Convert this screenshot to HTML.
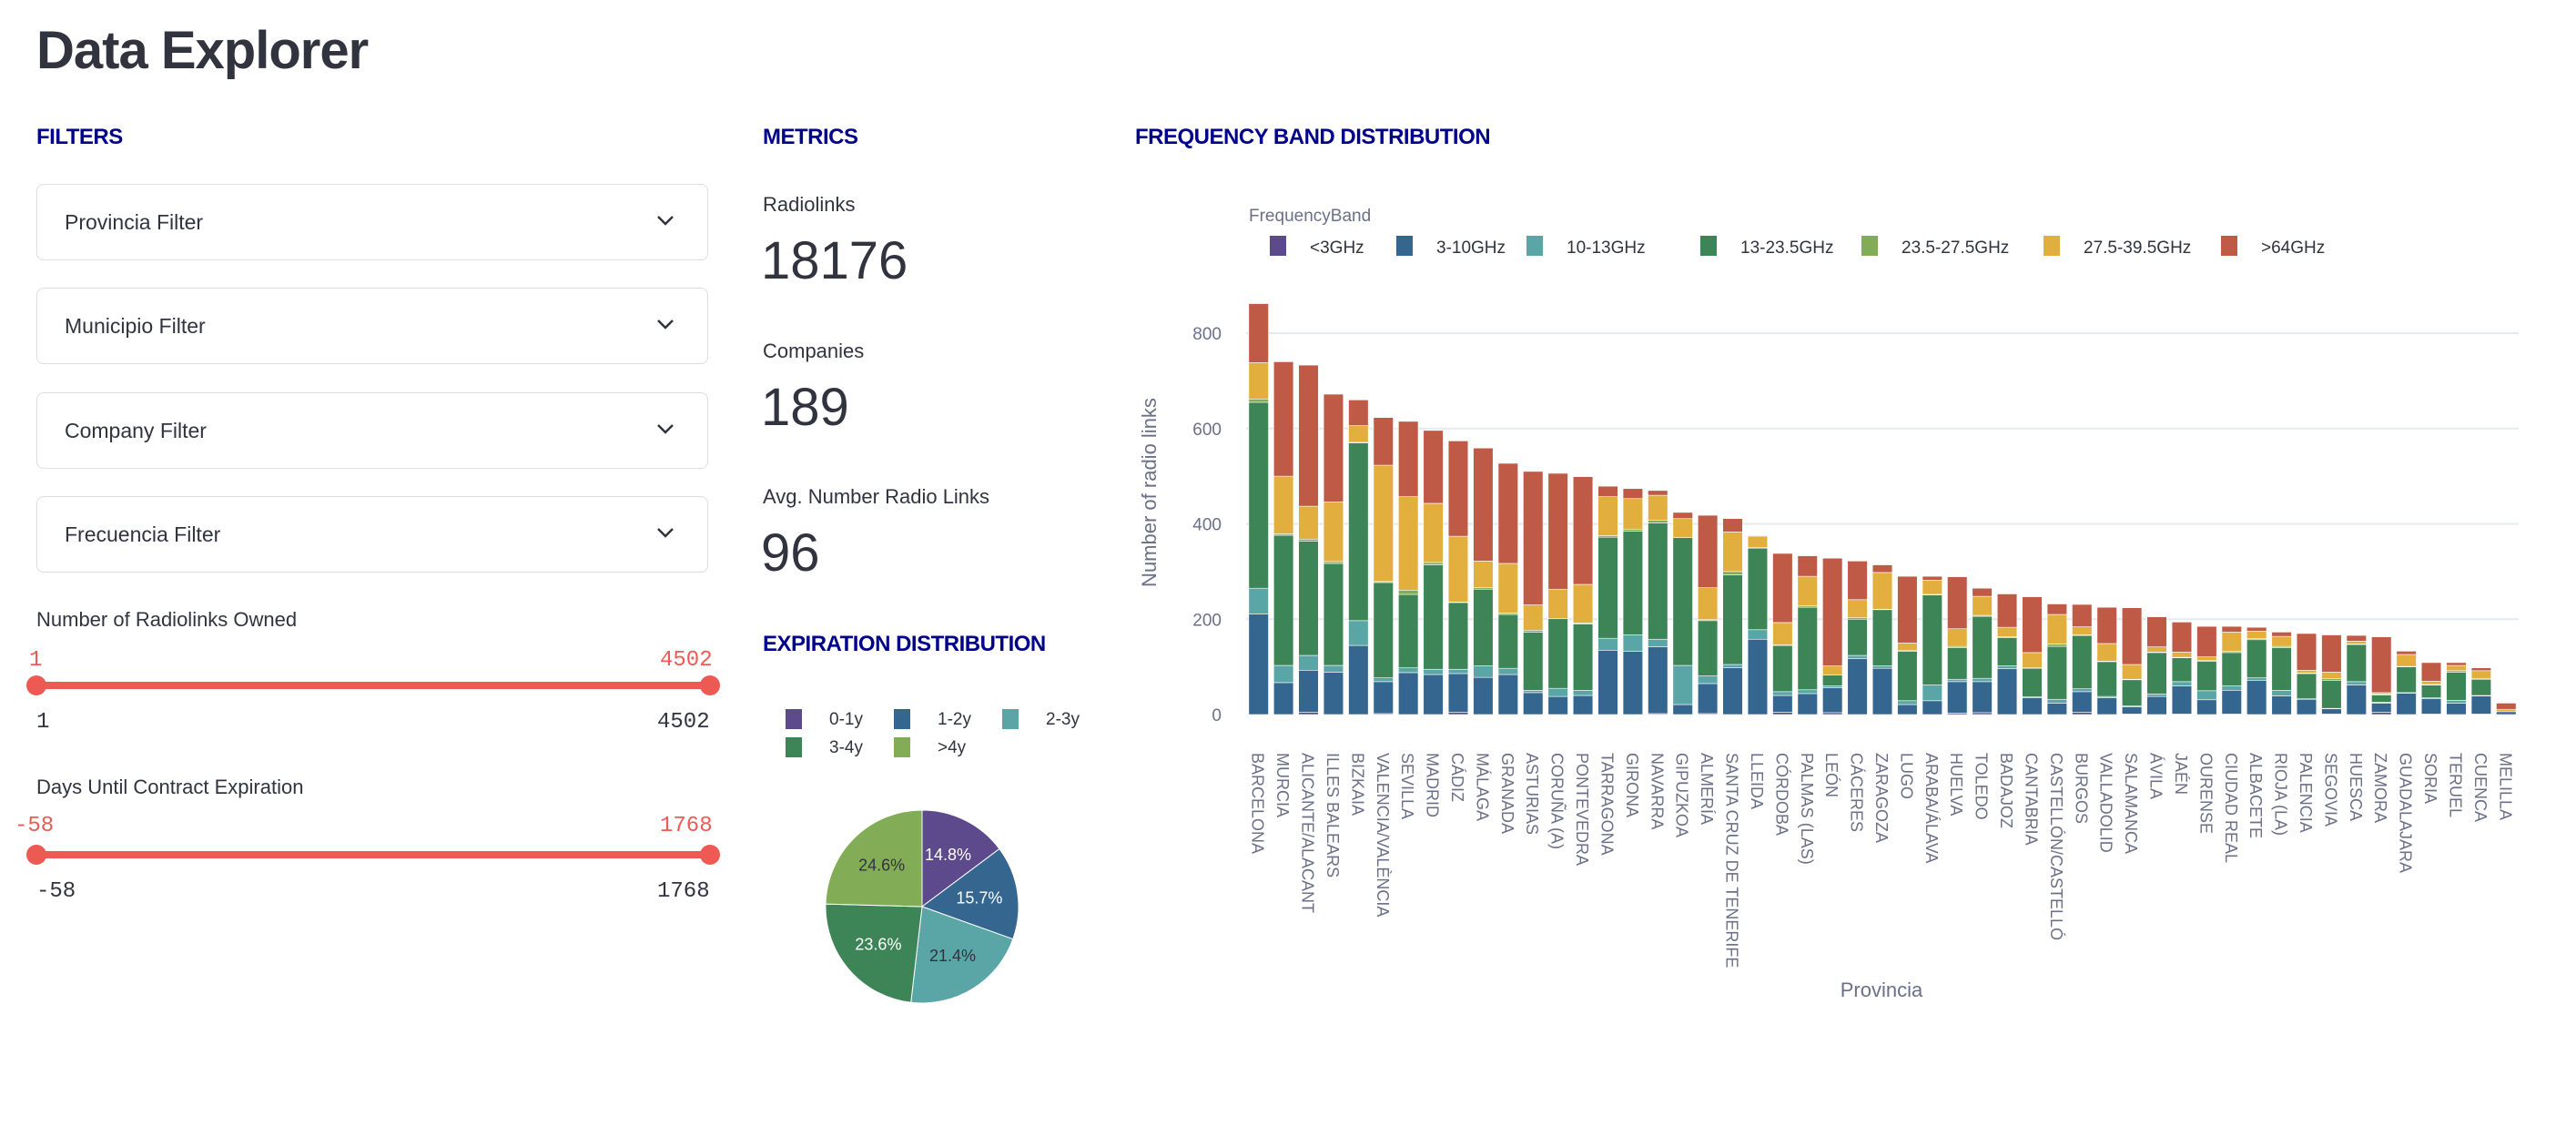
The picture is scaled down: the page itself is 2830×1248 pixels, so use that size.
<!DOCTYPE html>
<html><head><meta charset="utf-8">
<style>
body{margin:0;width:2830px;height:1248px;background:#fff;font-family:"Liberation Sans",sans-serif;color:#31333f;position:relative;overflow:hidden}
.abs{position:absolute}
h1{position:absolute;left:40px;top:22px;margin:0;font-size:58px;font-weight:bold;color:#31333f;letter-spacing:-1px}
.hd{position:absolute;font-size:24px;font-weight:bold;color:#00008b;letter-spacing:-0.5px}
.dd{position:absolute;left:40px;width:738px;height:84px;border:1.5px solid #dcdde2;border-radius:8px;box-sizing:border-box}
.dd span{position:absolute;left:30px;top:28px;font-size:23px;color:#31333f}
.dd svg{position:absolute;left:680px;top:32px}
.lbl{position:absolute;font-size:22px;color:#31333f}
.mono{position:absolute;font-family:"Liberation Mono",monospace;font-size:24px}
.track{position:absolute;left:40px;width:740px;height:8px;background:#ec5a53;border-radius:4px}
.thumb{position:absolute;width:22px;height:22px;border-radius:50%;background:#ec5a53}
.mlab{position:absolute;left:838px;font-size:22px;color:#31333f}
.mval{position:absolute;left:836px;font-size:58px;color:#31333f}
</style></head><body>
<h1>Data Explorer</h1>
<div class="hd" style="left:40px;top:137px">FILTERS</div>
<div class="hd" style="left:838px;top:137px">METRICS</div>
<div class="hd" style="left:1247px;top:137px">FREQUENCY BAND DISTRIBUTION</div>
<div class="hd" style="left:838px;top:694px">EXPIRATION DISTRIBUTION</div>

<div class="dd" style="top:202px"><span>Provincia Filter</span><svg width="20" height="14"><path d="M2 3l8 8 8-8" fill="none" stroke="#31333f" stroke-width="2.5"/></svg></div>
<div class="dd" style="top:316px"><span>Municipio Filter</span><svg width="20" height="14"><path d="M2 3l8 8 8-8" fill="none" stroke="#31333f" stroke-width="2.5"/></svg></div>
<div class="dd" style="top:431px"><span>Company Filter</span><svg width="20" height="14"><path d="M2 3l8 8 8-8" fill="none" stroke="#31333f" stroke-width="2.5"/></svg></div>
<div class="dd" style="top:545px"><span>Frecuencia Filter</span><svg width="20" height="14"><path d="M2 3l8 8 8-8" fill="none" stroke="#31333f" stroke-width="2.5"/></svg></div>

<div class="lbl" style="left:40px;top:668px">Number of Radiolinks Owned</div>
<div class="mono" style="left:32px;top:712px;color:#ec5a53">1</div>
<div class="mono" style="left:725px;top:712px;color:#ec5a53">4502</div>
<div class="track" style="top:749px"></div>
<div class="thumb" style="left:29px;top:742px"></div>
<div class="thumb" style="left:769px;top:742px"></div>
<div class="mono" style="left:40px;top:780px">1</div>
<div class="mono" style="left:722px;top:780px">4502</div>

<div class="lbl" style="left:40px;top:852px">Days Until Contract Expiration</div>
<div class="mono" style="left:16px;top:894px;color:#ec5a53">-58</div>
<div class="mono" style="left:725px;top:894px;color:#ec5a53">1768</div>
<div class="track" style="top:935px"></div>
<div class="thumb" style="left:29px;top:928px"></div>
<div class="thumb" style="left:769px;top:928px"></div>
<div class="mono" style="left:40px;top:966px">-58</div>
<div class="mono" style="left:722px;top:966px">1768</div>

<div class="mlab" style="top:212px">Radiolinks</div>
<div class="mval" style="top:253px">18176</div>
<div class="mlab" style="top:373px">Companies</div>
<div class="mval" style="top:414px">189</div>
<div class="mlab" style="top:533px">Avg. Number Radio Links</div>
<div class="mval" style="top:574px">96</div>

<svg id="pie" class="abs" style="left:840px;top:760px" width="360" height="360"></svg>
<svg id="bar" class="abs" style="left:1230px;top:200px" width="1600" height="920"></svg>

<script>
// ---------- Pie chart data ----------
const pieLabels = ["0-1y","1-2y","2-3y","3-4y",">4y"];
const pieValues = [14.8,15.7,21.4,23.6,24.6];
const pieColors = ["#5d4a8d","#356690","#5aa5a6","#3d8556","#82ad56"];
const pieTextColors = ["#fff","#fff","#31333f","#fff","#31333f"];

// ---------- Bar chart data ----------
const provinces = ["BARCELONA","MURCIA","ALICANTE/ALACANT","ILLES BALEARS","BIZKAIA","VALENCIA/VALÈNCIA","SEVILLA","MADRID","CÁDIZ","MÁLAGA","GRANADA","ASTURIAS","CORUÑA (A)","PONTEVEDRA","TARRAGONA","GIRONA","NAVARRA","GIPUZKOA","ALMERÍA","SANTA CRUZ DE TENERIFE","LLEIDA","CÓRDOBA","PALMAS (LAS)","LEÓN","CÁCERES","ZARAGOZA","LUGO","ARABA/ÁLAVA","HUELVA","TOLEDO","BADAJOZ","CANTABRIA","CASTELLÓN/CASTELLÓ","BURGOS","VALLADOLID","SALAMANCA","ÁVILA","JAÉN","OURENSE","CIUDAD REAL","ALBACETE","RIOJA (LA)","PALENCIA","SEGOVIA","HUESCA","ZAMORA","GUADALAJARA","SORIA","TERUEL","CUENCA","MELILLA"];
const bandNames = ["<3GHz","3-10GHz","10-13GHz","13-23.5GHz","23.5-27.5GHz","27.5-39.5GHz",">64GHz"];
const bandColors = ["#5d4a8d","#356690","#5aa5a6","#3d8556","#82ad56","#e2af3e","#be5a46"];
const sLt3 = [0,0,5,0,0,2,0,0,5,0,0,0,0,0,0,0,2,0,2,0,0,5,0,4,0,0,0,0,3,4,0,0,0,5,0,1,0,1,0,1,0,0,0,1,0,5,0,1,0,1,0];
const s3to10 = [211,67,88,89,145,67,88,84,81,78,84,46,38,40,135,133,140,21,63,98,158,35,44,52,117,97,21,29,66,65,96,35,24,43,35,15,38,59,31,50,72,39,32,11,62,19,45,32,24,38,6];
const s10to13 = [54,36,31,14,52,8,10,11,9,24,13,5,17,11,25,34,16,82,16,7,20,8,8,4,7,5,8,33,5,7,6,2,8,6,3,2,5,9,19,9,5,12,1,1,7,2,1,2,6,1,0];
const s13to23 = [390,273,240,214,373,200,154,219,140,161,113,122,146,139,212,218,244,268,116,188,171,97,173,23,76,118,104,189,66,130,59,60,111,112,73,55,87,50,62,70,80,89,53,59,78,15,54,27,59,34,0];
const s23to27 = [7,3,4,4,1,2,9,5,1,3,3,4,0,2,3,4,6,0,2,7,1,1,3,0,3,1,1,1,3,2,2,1,5,1,1,1,1,1,2,3,2,3,1,3,1,2,1,1,3,1,0];
const s27to39 = [76,121,69,125,35,244,196,124,138,56,104,53,62,81,82,64,52,40,67,83,23,47,62,19,38,77,16,30,37,40,20,32,62,17,37,31,11,11,7,40,16,21,6,14,6,3,25,7,11,17,5];
const sGt64 = [124,240,296,226,54,100,158,153,200,237,210,280,243,226,22,21,10,13,152,28,2,145,43,226,81,16,140,8,109,17,70,117,22,47,76,119,63,63,64,12,8,9,77,78,12,117,7,39,6,6,13];
const seriesList = [sLt3,s3to10,s10to13,s13to23,s23to27,s27to39,sGt64];
const yTicks = [0,200,400,600,800];
</script>
<script>
const NS="http://www.w3.org/2000/svg";
function mk(parent,tag,attrs,text){const e=document.createElementNS(NS,tag);for(const k in attrs)e.setAttribute(k,attrs[k]);if(text!==undefined)e.textContent=text;parent.appendChild(e);return e;}

// ----- Pie -----
(function(){
const svg=document.getElementById('pie');
const cx=173,cy=236,r=106;
const tot=pieValues.reduce((a,b)=>a+b,0);
let a0=0;
pieLabels.forEach((lab,i)=>{
  const lx=23+(i%3)*119, ly=19+Math.floor(i/3)*31;
  const sw=mk(svg,'rect',{x:lx,y:ly,width:18,height:22,fill:pieColors[i]});
  
  
  const lt=mk(svg,'text',{x:lx+48,y:ly+17,'font-size':19,fill:'#31333f','font-family':'Liberation Sans, sans-serif'},lab);
  
  
  const a1=a0+pieValues[i]/tot*2*Math.PI;
  const p=(a)=>[cx+r*Math.sin(a),cy-r*Math.cos(a)];
  const [x0,y0]=p(a0),[x1,y1]=p(a1);
  const sl=mk(svg,'path',{d:`M${cx},${cy}L${x0},${y0}A${r},${r} 0 ${a1-a0>Math.PI?1:0} 1 ${x1},${y1}Z`,fill:pieColors[i],stroke:'#fff','stroke-width':1});
  
  
  const am=(a0+a1)/2;
  const t=mk(svg,'text',{x:cx+r*0.6*Math.sin(am),y:cy-r*0.6*Math.cos(am)+6,'text-anchor':'middle','font-size':18,fill:pieTextColors[i],'font-family':'Liberation Sans, sans-serif'},pieValues[i].toFixed(1)+'%');
  
  
  a0=a1;
});
})();

// ----- Bars -----
(function(){
const svg=document.getElementById('bar');
const OX=1230,OY=200;
const x0=1369-OX, x1=2767-OX, yZero=785-OY, yMax=800, yPx=419;
const yS=v=>yZero-v/yMax*yPx;
const pitch=(x1-x0)/provinces.length, bw=pitch*0.79;
const xS=i=>x0+pitch*i+pitch/2;
const F='Liberation Sans, sans-serif', AX='#6b7088';
yTicks.forEach(t=>{
  if(t>0){const g=mk(svg,'line',{x1:x0,x2:x1,y1:yS(t),y2:yS(t),stroke:'#e5e9f0','stroke-width':2});
  
  }
  const tl=mk(svg,'text',{x:x0-27,y:yS(t)+7,'text-anchor':'end','font-size':19,fill:AX,'font-family':F},t);
  
  
});
const yt=mk(svg,'text',{transform:`translate(${1270-OX},${541-OY}) rotate(-90)`,'text-anchor':'middle','font-size':22,fill:AX,'font-family':F},'Number of radio links');


const xt=mk(svg,'text',{x:2067-OX,y:1095-OY,'text-anchor':'middle','font-size':22,fill:AX,'font-family':F},'Provincia');


provinces.forEach((p,i)=>{
  let cum=0;
  seriesList.forEach((s,k)=>{
    const v=s[i]; if(v<=0)return;
    const r=mk(svg,'rect',{x:xS(i)-bw/2,y:yS(cum+v),width:bw,height:yS(cum)-yS(cum+v),fill:bandColors[k],stroke:'#fff','stroke-width':0.6});
    
    
    cum+=v;
  });
  const l=mk(svg,'text',{transform:`translate(${xS(i)-7},${827-OY}) rotate(90)`,'font-size':18,fill:AX,'font-family':F},p);
  
  
});
const lg=mk(svg,'text',{x:1372-OX,y:243-OY,'font-size':19,fill:AX,'font-family':F},'FrequencyBand');


const lxs=[1395,1534,1677,1868,2045,2245,2440];
bandNames.forEach((b,k)=>{
  const sw=mk(svg,'rect',{x:lxs[k]-OX,y:259-OY,width:18,height:22,fill:bandColors[k]});
  
  
  const t=mk(svg,'text',{x:lxs[k]+44-OX,y:278-OY,'font-size':19,fill:'#31333f','font-family':F},b);
  
  
});
})();
</script>
</body></html>
